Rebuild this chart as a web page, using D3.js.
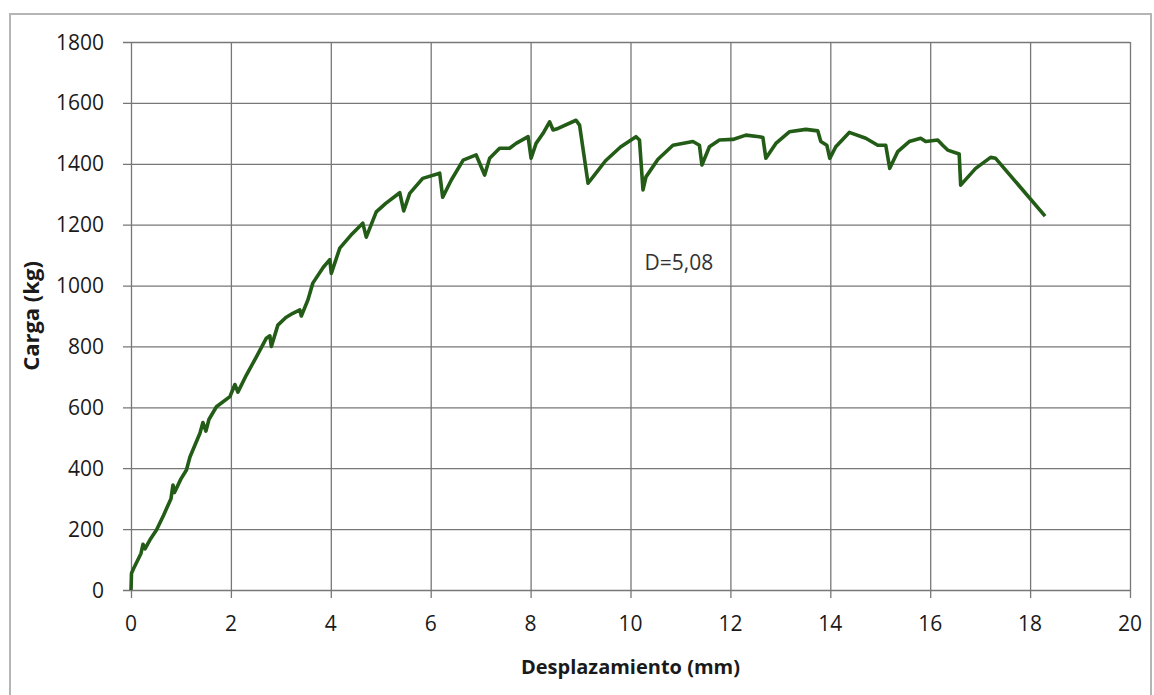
<!DOCTYPE html>
<html>
<head>
<meta charset="utf-8">
<script src="https://cdn.jsdelivr.net/npm/d3@7"></script>
<style>
  body { margin: 0; background: #fff; }
  text { font-family: "Open Sans", "DejaVu Sans", sans-serif; fill: #1a1a1a; }
  .grid line { stroke: #777; stroke-width: 1.3; }
</style>
</head>
<body>
<div id="chart"></div>
<script>
// load-displacement curve
var disp = [0, 0.01, 0.05, 0.2, 0.24, 0.28, 0.38, 0.51, 0.65, 0.8, 0.84, 0.87, 1.0, 1.11, 1.18,
  1.38, 1.44, 1.5, 1.56, 1.71, 1.98, 2.08, 2.14, 2.31, 2.51, 2.71, 2.78, 2.81, 2.94, 3.1,
  3.24, 3.38, 3.41, 3.54, 3.64, 3.85, 3.98, 4.01, 4.18, 4.4, 4.64, 4.71, 4.91, 5.1, 5.38,
  5.46, 5.58, 5.84, 6.18, 6.24, 6.41, 6.65, 6.91, 7.08, 7.18, 7.38, 7.58, 7.71, 7.95, 8.01,
  8.11, 8.25, 8.38, 8.45, 8.55, 8.91, 8.98, 9.15, 9.25, 9.5, 9.8, 10.11, 10.18, 10.25, 10.31,
  10.55, 10.85, 11.25, 11.38, 11.43, 11.58, 11.78, 12.05, 12.31, 12.58, 12.65, 12.71, 12.91,
  13.18, 13.51, 13.75, 13.81, 13.93, 13.99, 14.11, 14.38, 14.71, 14.95, 15.11, 15.19, 15.35,
  15.58, 15.81, 15.91, 16.15, 16.25, 16.35, 16.58, 16.61, 16.91, 17.21, 17.31, 18.3];
var load = [0, 55, 70, 120, 150, 135, 165, 197, 245, 300, 345, 320, 365, 394, 437,
  515, 550, 522, 560, 602, 635, 675, 650, 706, 766, 827, 835, 800, 870, 895,
  909, 920, 900, 952, 1008, 1060, 1085, 1040, 1123, 1165, 1205, 1159, 1242, 1270, 1305,
  1245, 1303, 1352, 1369, 1290, 1346, 1412, 1429, 1363, 1418, 1451, 1451, 1467, 1489, 1418,
  1467, 1500, 1538, 1511, 1516, 1543, 1527, 1336, 1357, 1410, 1455, 1489, 1478, 1314, 1357,
  1415, 1461, 1473, 1461, 1396, 1456, 1478, 1480, 1494, 1489, 1486, 1418, 1467,
  1505, 1513, 1508, 1473, 1461, 1418, 1456, 1503, 1484, 1461, 1461, 1385, 1440,
  1473, 1484, 1473, 1478, 1461, 1445, 1432, 1330, 1385, 1421, 1418, 1228];

var xTicks = [0, 2, 4, 6, 8, 10, 12, 14, 16, 18, 20];
var yTicks = [0, 200, 400, 600, 800, 1000, 1200, 1400, 1600, 1800];
var note = {x: 10.28, y: 1051, label: "D=5,08"};

var W = 1154, H = 695;
var margin = {top: 42, right: 24, bottom: 105, left: 131},
    width = W - margin.left - margin.right,
    height = H - margin.top - margin.bottom;

var x = d3.scaleLinear().domain([0, 20]).range([0, width]);
var y = d3.scaleLinear().domain([0, 1800]).range([height, 0]);

var svg = d3.select("#chart").append("svg")
    .attr("width", W)
    .attr("height", H);

// outer chart frame
svg.append("rect")
    .attr("x", 10).attr("y", 14)
    .attr("width", 1141).attr("height", 700)
    .attr("fill", "none")
    .attr("stroke", "#b5b5b5")
    .attr("stroke-width", 2);

var g = svg.append("g")
    .attr("transform", "translate(" + margin.left + "," + margin.top + ")");

// horizontal grid
g.append("g")
    .attr("class", "grid")
    .call(d3.axisLeft(y).tickValues(yTicks).tickSize(-width - 8).tickFormat(""))
    .attr("transform", "translate(-8,0)")
    .call(function(s) { s.select(".domain").remove(); });

// vertical grid
g.append("g")
    .attr("class", "grid")
    .attr("transform", "translate(0," + (height + 8) + ")")
    .call(d3.axisBottom(x).tickValues(xTicks).tickSize(height + 8).tickFormat(""))
    .call(function(s) {
      s.select(".domain").remove();
      s.selectAll("line").attr("y2", -height - 8);
    });

g.selectAll(".ylab")
    .data(yTicks)
  .enter().append("text")
    .attr("x", -27)
    .attr("y", function(d) { return y(d); })
    .attr("dy", "0.36em")
    .attr("text-anchor", "end")
    .style("font-size", "21px")
    .text(function(d) { return d; });

g.selectAll(".xlab")
    .data(xTicks)
  .enter().append("text")
    .attr("x", function(d) { return x(d); })
    .attr("y", height + 41)
    .attr("text-anchor", "middle")
    .style("font-size", "21px")
    .text(function(d) { return d; });

// the curve
var line = d3.line()
    .x(function(d, i) { return x(disp[i]); })
    .y(function(d) { return y(d); });

g.append("path")
    .datum(load)
    .attr("fill", "none")
    .attr("stroke", "#235c16")
    .attr("stroke-width", 3.6)
    .attr("stroke-linejoin", "round")
    .attr("d", line);

g.append("text")
    .attr("x", x(note.x))
    .attr("y", y(note.y))
    .style("font-size", "21px")
    .style("fill", "#333")
    .text(note.label);

// axis titles
g.append("text")
    .attr("x", width / 2)
    .attr("y", height + 84)
    .attr("text-anchor", "middle")
    .style("font-size", "20px")
    .style("font-weight", "bold")
    .text("Desplazamiento (mm)");

g.append("text")
    .attr("transform", "rotate(-90)")
    .attr("x", -height / 2)
    .attr("y", -92)
    .attr("text-anchor", "middle")
    .style("font-size", "22px")
    .style("font-weight", "bold")
    .text("Carga (kg)");
</script>
</body>
</html>
